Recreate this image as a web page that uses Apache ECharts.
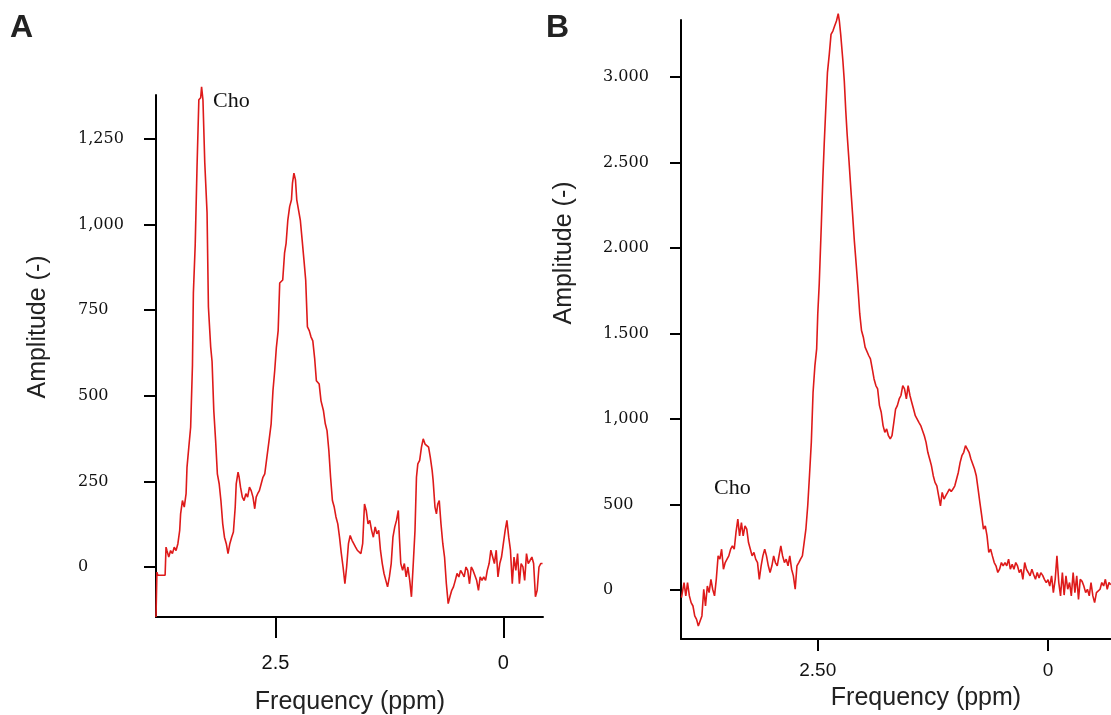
<!DOCTYPE html>
<html><head><meta charset="utf-8">
<script src="https://cdn.jsdelivr.net/npm/echarts@6/dist/echarts.min.js"></script>
<style>html,body{margin:0;padding:0;background:#fff}#c{width:1111px;height:715px}</style>
</head><body><div id="c"></div>
<script>
// Panel A spectrum (ppm, amplitude)
const ppmA = [3.81,3.80,3.79,3.71,3.70,3.69,3.67,3.65,3.63,3.61,3.59,3.57,3.55,3.54,3.52,3.50,3.48,3.47,3.45,3.43,3.41,3.40,3.38,3.36,3.34,3.32,3.31,3.295,3.275,3.25,3.235,3.21,3.195,3.176,3.156,3.137,3.117,3.098,3.078,3.059,3.039,3.02,3.0,2.98,2.961,2.941,2.93,2.91,2.898,2.883,2.863,2.844,2.824,2.805,2.785,2.766,2.746,2.727,2.711,2.695,2.676,2.656,2.637,2.617,2.598,2.57,2.547,2.527,2.508,2.49,2.47,2.453,2.42,2.40,2.383,2.364,2.344,2.324,2.313,2.297,2.28,2.266,2.246,2.227,2.207,2.187,2.168,2.149,2.129,2.11,2.09,2.07,2.051,2.02,2.0,1.973,1.953,1.934,1.914,1.895,1.875,1.855,1.836,1.816,1.797,1.777,1.758,1.738,1.719,1.699,1.68,1.66,1.641,1.621,1.602,1.563,1.543,1.523,1.504,1.484,1.465,1.445,1.426,1.406,1.387,1.367,1.348,1.328,1.309,1.289,1.27,1.25,1.23,1.211,1.191,1.172,1.152,1.14,1.125,1.105,1.086,1.066,1.047,1.027,1.008,0.988,0.969,0.953,0.938,0.918,0.898,0.879,0.859,0.84,0.82,0.801,0.781,0.77,0.75,0.734,0.719,0.703,0.684,0.664,0.645,0.625,0.605,0.586,0.566,0.547,0.527,0.508,0.488,0.469,0.449,0.43,0.41,0.391,0.371,0.352,0.332,0.313,0.293,0.273,0.254,0.234,0.215,0.195,0.176,0.156,0.137,0.117,0.098,0.078,0.059,0.039,0.02,0.0,-0.02,-0.039,-0.059,-0.078,-0.098,-0.117,-0.137,-0.156,-0.176,-0.195,-0.215,-0.234,-0.254,-0.273,-0.293,-0.313,-0.332,-0.352,-0.371,-0.391,-0.41,-0.43];
const ampA = [-146,-15,-24,-24,58,48,29,48,39,58,48,68,107,155,194,175,214,291,350,408,590,800,940,1168,1364,1370,1402,1364,1180,1034,759,642,600,456,369,272,243,194,126,87,68,39,68,87,102,175,243,277,262,233,204,194,214,204,233,223,204,170,204,214,223,243,262,272,311,369,418,515,573,640,690,829,838,916,945,1013,1052,1072,1121,1150,1130,1072,1072,1013,955,896,838,701,690,672,660,610,544,534,485,456,418,398,340,262,194,175,146,126,87,39,0,-49,0,68,92,78,83,58,49,39,68,184,165,126,136,107,87,117,97,107,49,10,-19,-39,-58,-29,10,87,117,136,165,87,10,-10,10,-29,0,-39,-87,10,107,262,301,311,350,374,359,364,350,320,282,252,175,155,184,194,126,68,29,-49,-107,-87,-68,-58,-39,-19,-29,-10,-19,-29,0,-10,-49,0,-10,-10,-39,-68,-29,-39,-29,-39,-10,10,49,29,10,49,-29,10,29,68,107,136,87,49,-49,29,-10,39,-49,10,0,-39,39,10,19,29,10,-87,-68,0,10,10];

// Panel B spectrum (ppm, amplitude)
const ppmB = [3.980,3.952,3.933,3.914,3.894,3.875,3.855,3.836,3.816,3.797,3.777,3.758,3.738,3.719,3.699,3.680,3.660,3.641,3.621,3.602,3.582,3.563,3.544,3.524,3.505,3.485,3.466,3.446,3.427,3.407,3.388,3.368,3.349,3.329,3.310,3.290,3.271,3.252,3.232,3.213,3.193,3.174,3.154,3.135,3.115,3.096,3.076,3.057,3.037,3.018,2.998,2.979,2.960,2.940,2.921,2.901,2.882,2.862,2.843,2.823,2.804,2.784,2.765,2.745,2.726,2.706,2.687,2.667,2.648,2.629,2.609,2.590,2.570,2.551,2.531,2.512,2.500,2.484,2.461,2.445,2.430,2.414,2.395,2.375,2.356,2.336,2.317,2.297,2.278,2.266,2.251,2.227,2.212,2.196,2.181,2.161,2.142,2.122,2.103,2.083,2.064,2.044,2.025,2.005,1.986,1.966,1.947,1.928,1.908,1.889,1.869,1.850,1.830,1.811,1.791,1.772,1.752,1.733,1.713,1.694,1.674,1.655,1.636,1.616,1.597,1.577,1.558,1.538,1.519,1.499,1.480,1.460,1.441,1.421,1.402,1.382,1.363,1.343,1.324,1.305,1.285,1.266,1.246,1.227,1.207,1.188,1.168,1.149,1.129,1.110,1.090,1.071,1.051,1.032,1.012,0.993,0.974,0.954,0.935,0.915,0.896,0.876,0.857,0.837,0.818,0.798,0.779,0.759,0.740,0.720,0.701,0.681,0.662,0.643,0.623,0.604,0.584,0.565,0.545,0.526,0.506,0.487,0.467,0.448,0.428,0.409,0.389,0.370,0.350,0.331,0.312,0.292,0.273,0.253,0.234,0.214,0.195,0.175,0.156,0.136,0.117,0.097,0.078,0.058,0.039,0.019,0,-0.019,-0.039,-0.058,-0.078,-0.097,-0.117,-0.136,-0.156,-0.175,-0.195,-0.214,-0.234,-0.253,-0.273,-0.292,-0.312,-0.331,-0.350,-0.370,-0.389,-0.409,-0.428,-0.448,-0.467,-0.487,-0.506,-0.526,-0.545,-0.565,-0.584,-0.604,-0.623,-0.643,-0.662,-0.681];
const ampB = [-45,43,-35,43,-35,-74,-94,-152,-172,-211,-221,-152,4,-94,23,-16,62,4,-35,62,199,180,238,121,160,180,199,238,258,238,336,414,316,394,316,375,355,277,238,199,219,180,160,62,141,199,238,199,141,102,141,199,160,141,199,258,199,160,180,141,199,121,82,4,141,160,180,199,277,355,492,668,863,1156,1312,1410,1614,1790,2140,2403,2607,2802,3025,3132,3249,3268,3298,3327,3370,3330,3249,3093,2977,2802,2665,2510,2354,2198,2043,1906,1770,1614,1517,1478,1420,1410,1371,1351,1293,1234,1195,1176,1078,1039,961,922,941,902,883,902,980,1058,1078,1117,1137,1195,1176,1117,1195,1137,1098,1058,1019,1010,980,961,950,902,863,805,766,727,668,629,609,551,492,570,531,551,570,590,575,590,609,600,687,746,785,805,844,824,805,766,760,707,668,590,512,434,355,375,316,219,238,199,160,141,102,121,160,141,160,141,180,121,150,121,160,140,102,120,62,160,121,102,82,121,90,62,102,70,100,85,62,43,60,23,82,-16,62,199,43,-35,102,-30,82,4,43,-35,102,-16,82,-55,62,50,23,-16,4,-35,43,-35,-74,-16,-20,4,43,23,62,4,43,30];

// Tick values and labels
const yTicksA = [0,250,500,750,1000,1250];
const yLabelsA = ['0','250','500','750','1,000','1,250'];
const xTicksA = [2.5,0];
const xLabelsA = ['2.5','0'];
const yTicksB = [0,500,1000,1500,2000,2500,3000];
const yLabelsB = ['0','500','1,000','1.500','2.000','2.500','3.000'];
const xTicksB = [2.5,0];
const xLabelsB = ['2.50','0'];

const RED = '#de1a1a';
const lab = (ticks, labels) => v => { const i = ticks.findIndex(t => Math.abs(t - v) < 1e-9); return i < 0 ? '' : labels[i]; };
const axisLineStyle = { show: true, onZero: false, lineStyle: { color: '#000', width: 2 } };

const chart = echarts.init(document.getElementById('c'), null, { renderer: 'canvas' });
chart.setOption({
  animation: false,
  backgroundColor: '#fff',
  grid: [
    { left: 156, top: 95, width: 387, height: 522 },
    { left: 681, top: 20, width: 430, height: 619 }
  ],
  xAxis: [
    { gridIndex: 0, type: 'value', inverse: true, position: 'bottom', min: -0.435, max: 3.81,
      axisLine: axisLineStyle, splitLine: { show: false },
      axisTick: { customValues: xTicksA, length: 21, lineStyle: { color: '#000', width: 2 } },
      axisLabel: { customValues: xTicksA, formatter: lab(xTicksA, xLabelsA), margin: 36,
        fontFamily: 'Liberation Sans', fontSize: 20, color: '#111' } },
    { gridIndex: 1, type: 'value', inverse: true, position: 'bottom', min: -0.684, max: 3.985,
      axisLine: axisLineStyle, splitLine: { show: false },
      axisTick: { customValues: xTicksB, length: 12, lineStyle: { color: '#000', width: 2 } },
      axisLabel: { customValues: xTicksB, formatter: lab(xTicksB, xLabelsB), margin: 22,
        fontFamily: 'Liberation Sans', fontSize: 19, color: '#111' } }
  ],
  yAxis: [
    { gridIndex: 0, type: 'value', position: 'left', min: -146, max: 1378,
      axisLine: axisLineStyle, splitLine: { show: false },
      axisTick: { customValues: yTicksA, length: 12, lineStyle: { color: '#000', width: 2 } },
      axisLabel: { customValues: yTicksA, formatter: lab(yTicksA, yLabelsA), margin: 78, align: 'left',
        fontFamily: 'DejaVu Serif', fontSize: 16, color: '#111' } },
    { gridIndex: 1, type: 'value', position: 'left', min: -287, max: 3333,
      axisLine: axisLineStyle, splitLine: { show: false },
      axisTick: { customValues: yTicksB, length: 11, lineStyle: { color: '#000', width: 2 } },
      axisLabel: { customValues: yTicksB, formatter: lab(yTicksB, yLabelsB), margin: 78, align: 'left',
        fontFamily: 'DejaVu Serif', fontSize: 16, color: '#111' } }
  ],
  series: [
    { type: 'line', xAxisIndex: 0, yAxisIndex: 0, data: ppmA.map((p, i) => [p, ampA[i]]),
      showSymbol: false, clip: false, lineStyle: { color: RED, width: 1.6 }, silent: true },
    { type: 'line', xAxisIndex: 1, yAxisIndex: 1, data: ppmB.map((p, i) => [p, ampB[i]]),
      showSymbol: false, clip: false, lineStyle: { color: RED, width: 1.6 }, silent: true }
  ],
  graphic: [
    { type: 'text', left: 10, top: 12, style: { text: 'A', font: 'bold 32px "Liberation Sans"', fill: '#222' } },
    { type: 'text', left: 546, top: 12, style: { text: 'B', font: 'bold 32px "Liberation Sans"', fill: '#222' } },
    { type: 'text', x: 213, y: 101, style: { text: 'Cho', font: '22px "Liberation Serif"', fill: '#111', verticalAlign: 'middle' } },
    { type: 'text', x: 714, y: 488, style: { text: 'Cho', font: '22px "Liberation Serif"', fill: '#111', verticalAlign: 'middle' } },
    { type: 'text', x: 38, y: 327, rotation: Math.PI / 2, style: { text: 'Amplitude (-)', font: '25px "Liberation Sans"', fill: '#222', align: 'center', verticalAlign: 'middle' } },
    { type: 'text', x: 564, y: 253, rotation: Math.PI / 2, style: { text: 'Amplitude (-)', font: '25px "Liberation Sans"', fill: '#222', align: 'center', verticalAlign: 'middle' } },
    { type: 'text', x: 350, y: 702, style: { text: 'Frequency (ppm)', font: '25px "Liberation Sans"', fill: '#222', align: 'center', verticalAlign: 'middle' } },
    { type: 'text', x: 926, y: 698, style: { text: 'Frequency (ppm)', font: '25px "Liberation Sans"', fill: '#222', align: 'center', verticalAlign: 'middle' } }
  ]
});
</script></body></html>
